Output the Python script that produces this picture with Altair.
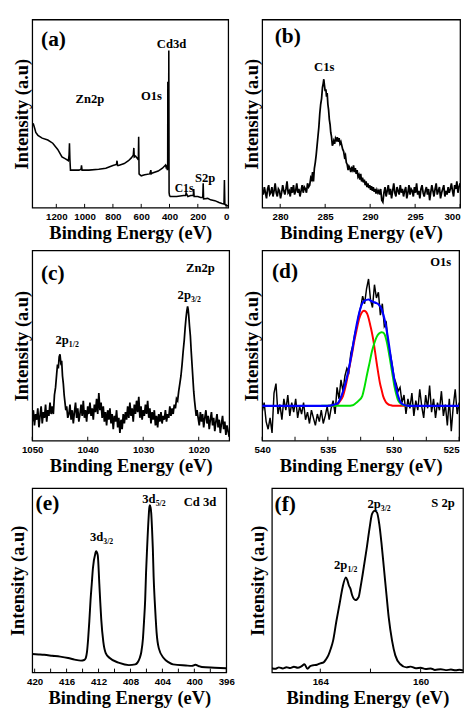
import altair as alt
import pandas as pd
import numpy as np

SERIF = "Liberation Serif"
SANS = "Liberation Sans"

# ---------------- (a) survey spectrum: (binding energy eV, intensity) ----------------
a_survey = [(1370,44.3),(1362,44.5),(1352,42),(1345,40),(1330,38.5),(1300,37),(1260,36),(1225,34.3),
            (1190,31),(1160,27),(1135,26),(1115,25),(1110,28),(1107,34.3),(1104,26),(1100,20),(1080,20),
            (1040,20),(1025,20.5),(1022,22.5),(1018,20),(970,20),(900,20.5),(850,21),(800,22.5),(775,23),
            (771,25),(767,22.5),(760,22.5),(720,23.5),(690,25),(670,26.5),(656,28),(652,31.8),(649,27),
            (640,27.5),(625,26),(620,27),(618,37.7),(615,18),(612,17.7),(600,17),(575,17.5),(540,18),
            (532,20),(529,18),(520,18.5),(480,19.5),(450,21),(428,22.7),(424,21.5),(420,22),(415,20),
            (413,22),(412,67),(411,25),(409,28),(407,30),(405,83.5),(403,8),(400,6.5),(395,6),(350,6),
            (300,6.5),(286,6.5),(283,8),(270,6),(250,6.5),(232,6.5),(229,10),(226,6),(200,6),(180,5.5),
            (165,5.5),(162,13),(159,4.7),(130,5),(110,4.2),(80,3.8),(50,2.8),(30,2.3),(15,2),(12,14.7),
            (9,2),(5,1.5),(0,1.3),(-15,1)]
a_ticks = [1200, 1000, 800, 600, 400, 200, 0]
a_labels = [("(a)", 1220, 89.5, 22), ("Cd3d", 386, 87, 13), ("Zn2p", 963, 57.5, 13),
            ("O1s", 528, 59.5, 13), ("C1s", 297, 10.5, 12), ("S2p", 148, 15.5, 13)]

# ---------------- (b) C1s ----------------
b_left_range = (278.0, 283.4)
b_left_counts = [9,7,11,8,5,10,12,7,8,11,6,9,13,8,6,10,9,5,8,12,9,7,10,14,8,9,6,11,8,12,7,9,13,8,10,
                 6,9,12,8,11,10,8,13,11,12,16]
b_peak = [(283.5,15),(283.6,19),(283.7,14),(283.8,21),(283.9,24),(284.0,28),(284.1,33),(284.2,38),
          (284.3,43),(284.4,50),(284.5,55),(284.6,58),(284.7,64),(284.78,66),(284.85,68.3),(284.92,65),
          (285.0,62),(285.08,63),(285.15,59),(285.22,61),(285.3,55),(285.38,52),(285.46,47),(285.55,44),
          (285.62,40),(285.7,38),(285.8,33),(285.88,34),(285.95,35.5),(286.05,34),(286.15,37),(286.25,36),
          (286.35,37.5),(286.45,35),(286.55,37),(286.65,34),(286.75,35),(286.85,33),(286.95,31),(287.05,30),
          (287.15,27),(287.25,28),(287.35,24),(287.45,23),(287.55,20),(287.65,22),(287.75,21),(287.85,19),
          (287.95,21),(288.05,20),(288.15,22.5),(288.25,19),(288.35,21),(288.45,18),(288.55,20),(288.65,16.5),
          (288.75,17.5),(288.85,15),(288.95,18),(289.05,14),(289.15,16),(289.25,13.5),(289.35,15),(289.45,12),
          (289.55,14),(289.65,11),(289.75,13),(289.85,10.5),(289.95,12),(290.05,9.5),(290.15,11.5),(290.25,9),
          (290.35,11),(290.45,8.5),(290.55,10),(290.65,7.5),(290.75,9.5),(290.85,8),(290.95,9)]
b_right_range = (291.05, 300.0)
b_right_counts = [7,10,4,3,8,11,6,9,12,7,10,5,9,13,8,6,11,9,7,12,8,10,6,9,11,5,8,12,7,10,9,6,11,8,13,
                  7,9,5,10,12,8,6,9,11,7,10,4,8,12,9,6,10,13,7,9,11,5,8,10,12,6,9,7,11,8,10,13,9,6,12,
                  10,14,8,11,13]
b_ticks = [280, 285, 290, 295, 300]
b_labels = [("(b)", 280.84, 91, 22), ("C1s", 284.9, 74.7, 13)]

# ---------------- (c) Zn2p ----------------
c_seg1_range = (1050.0, 1046.6)
c_seg1_counts = [10,16,8,14,11,17,7,13,18,9,15,12,19,10,16,13,20,14]
c_peak1 = [(1046.4,18),(1046.2,14),(1046.0,24),(1045.8,28),(1045.6,35),(1045.45,40),(1045.3,38),
           (1045.15,44),(1045.0,45.4),(1044.85,41),(1044.7,42),(1044.55,34),(1044.4,30),(1044.25,24),
           (1044.1,20),(1043.95,16),(1043.8,18),(1043.6,12)]
c_seg2_range = (1043.4, 1024.8)
c_seg2_counts = [14,19,11,16,9,15,20,12,17,10, 14,19,13,21,12,16,10,18,14,20,
                 13,17,11,19,15,22,14,25,16,20, 12,18,10,15,8,16,11,17,9,14,
                 6,13,10,16,7,12,4,11,6,14, 9,15,11,18,12,20,13,17,10,19,
                 14,21,15,23,12,18,11,16,13,19, 14,21,12,17,9,15,11,16,8,13,
                 7,14,10,15,9,13,11,16,10,14, 12,18,13,17]
c_peak2 = [(1024.6,14),(1024.4,19),(1024.2,17),(1024.0,22),(1023.8,21),(1023.6,26),(1023.4,30),
           (1023.2,34),(1023.0,40),(1022.8,47),(1022.6,53),(1022.45,59),(1022.3,64),(1022.15,68),
           (1022.0,70.6),(1021.9,69),(1021.8,66),(1021.65,60),(1021.5,55),(1021.35,47),(1021.2,40),
           (1021.05,33),(1020.9,26),(1020.75,21),(1020.6,17),(1020.45,13),(1020.3,16)]
c_seg3_range = (1020.1, 1014.5)
c_seg3_counts = [12,8,15,10,14,7,12,16,9,13,6,11,15,8,12,5,10,14,7,11,4,9,13,6,10,3,8,5,2]
c_ticks = [1050, 1040, 1030, 1020]
c_labels = [("(c)", 1046.3, 88.2, 22), ("Zn2p", 1019.7, 90.8, 13)]
c_sub_labels = [("2p", "3/2", 1021.4, 76.4), ("2p", "1/2", 1043.4, 52.9)]

# ---------------- (d) O1s ----------------
d_range = (540.0, 525.0)
d_counts = [15,20,10,6,12,4,25,30,14,19,11,22,16,24,13,20,15,22,12,18,
            14,20,11,15,9,16,12,8,14,10,16,9,13,18,11,17,21,14,28,22,
            32,26,34,38,36,46,50,56,60,66,70,76,72,80,85,74,70,82,75,78,
            66,72,60,62,50,46,40,33,30,26,28,20,24,14,22,17,25,13,21,16,
            27,18,12,24,17,29,15,22,12,20,16,26,13,19,8,22,5,18,27,14,20]
d_red = [(535.0,18.3),(534.6,18.3),(534.34,18.6),(534.1,20.5),(533.85,23.4),(533.6,30),(533.36,38.6),
         (533.15,46),(532.99,52.2),(532.8,58.5),(532.62,64),(532.45,67),(532.25,68.3),(532.1,67.8),
         (532.0,66.6),(531.88,64),(531.77,60.7),(531.65,57),(531.52,52.2),(531.4,46.5),(531.27,40.3),
         (531.15,35),(531.03,30.2),(530.9,26.5),(530.79,23.4),(530.6,20.5),(530.42,19.2),(530.2,18.6),
         (529.93,18.3),(528.8,18.3)]
d_green = [(535.5,18.3),(533.5,18.3),(533.1,18.6),(532.9,19.5),(532.65,21),(532.38,23.4),(532.2,28.5),
           (532.0,35.3),(531.82,41),(531.64,47),(531.45,51.5),(531.27,54.7),(531.1,56.3),(530.91,57),
           (530.78,56.8),(530.66,55.6),(530.54,52.8),(530.42,48.8),(530.3,44),(530.17,38.6),(530.05,33.5),
           (529.93,28.5),(529.8,24.6),(529.68,21.7),(529.5,19.8),(529.32,18.8),(528.95,18.3),(528.5,18.3)]
d_blue = [(540,18.3),(535.0,18.3),(534.58,18.8),(534.4,19.2),(534.2,20),(533.97,23.4),(533.73,28.5),
          (533.48,35.3),(533.24,43.7),(532.99,53.9),(532.74,63.2),(532.5,70),(532.25,73.4),(531.89,74.2),
          (531.7,73.4),(531.52,72.9),(531.3,72.3),(531.15,71.7),(530.91,69.2),(530.66,63.2),(530.42,53.9),
          (530.17,42),(529.93,31.9),(529.68,24.2),(529.44,20),(529.2,18.8),(529.0,18.4),(528.5,18.3),(525,18.3)]
d_ticks = [540, 535, 530, 525]
d_minor = [537.5, 532.5, 527.5]
d_labels = [("(d)", 538.26, 89.2, 22), ("O1s", 526.4, 93.8, 13)]

# ---------------- (e) Cd 3d ----------------
e_curve = [(420.3,10.0),(419.5,9.8),(418.8,9.6),(417.8,9.1),(416.8,8.6),(415.8,7.85),(415.0,7.0),
           (414.2,6.46),(413.8,6.8),(413.6,7.85),(413.45,11),(413.3,18.3),(413.15,28),(413.0,39.3),
           (412.85,48),(412.7,56.7),(412.4,64.6),(412.3,65.8),(412.1,63.7),(411.9,48),(411.78,38),
           (411.66,28.8),(411.4,16.6),(411.1,10.5),(410.6,7.85),(409.4,5.2),(408.2,4.0),(407.4,4.4),
           (407.1,5.5),(406.84,7.85),(406.65,11),(406.44,18.3),(406.3,28),(406.16,39.3),(406.05,54),
           (405.92,67.2),(405.72,84.6),(405.65,89),(405.57,90.8),(405.48,89.5),(405.4,86.4),(405.3,78),
           (405.2,67.2),(405.1,52),(404.97,39.3),(404.85,30),(404.73,21.8),(404.45,13.1),(403.85,7.85),
           (403.2,5.5),(402.66,4.4),(401.06,3.8),(400.3,3.6),(399.87,4.2),(399.4,3.4),(399.07,3.0),
           (397.48,2.6),(396.0,2.3)]
e_ticks = [420, 416, 412, 408, 404, 400, 396]
e_minor = [418, 414, 410, 406, 402, 398]
e_labels = [("(e)", 418.4, 92, 22), ("Cd 3d", 399.3, 92.7, 13)]
e_sub_labels = [("3d", "5/2", 404.85, 94.0), ("3d", "3/2", 411.4, 73.5)]

# ---------------- (f) S 2p ----------------
f_curve = [(165.93,2.3),(165.8,2.0),(165.65,2.8),(165.5,2.2),(165.35,2.9),(165.2,2.4),(165.05,3.1),
           (164.9,2.6),(164.76,3.3),(164.63,4.5),(164.51,2.0),(164.4,3.5),(164.25,4.0),(164.13,4.2),
           (164.0,5.0),(163.87,5.5),(163.78,7.0),(163.68,9.3),(163.58,13),(163.49,17.3),(163.36,27.8),
           (163.24,36.6),(163.11,46.3),(162.98,51.6),(162.92,50),(162.86,47.2),(162.8,45.5),(162.73,41.9),
           (162.6,39.3),(162.47,41),(162.4,46),(162.32,52.5),(162.16,66.5),(162.03,78.9),(161.94,85.9),
           (161.84,87.7),(161.74,86.8),(161.65,80.6),(161.56,70),(161.46,56),(161.36,41.9),(161.27,29.6),
           (161.14,17.3),(161.01,9.3),(160.82,4.6),(160.57,2.8),(160.4,3.2),(160.19,2.3),(160.0,2.6),
           (159.8,1.9),(159.6,2.2),(159.43,1.4),(159.2,1.8),(159.0,1.3),(158.79,1.6),(158.6,1.2),
           (158.45,1.5),(158.31,1.1)]
f_ticks = [164, 160]
f_minor = [162]
f_labels = [("(f)", 165.4, 91.5, 22), ("S 2p", 159.11, 92, 13)]
f_sub_labels = [("2p", "3/2", 161.59, 91.5), ("2p", "1/2", 162.92, 58)]


def pts(pairs):
    return pd.DataFrame(pairs, columns=["e", "v"])


def seg(rng, counts):
    return pd.DataFrame({"e": np.linspace(rng[0], rng[1], len(counts)), "v": counts})


def panel(curves, xdom, ticks, minor, labels, subs, W, H, reverse=True, ypad=1, right_label=None):
    axis_kw = dict(values=ticks, title="Binding Energy (eV)", format="d")
    if right_label is not None:
        axis_kw["labelAlign"] = {"condition": {"test": f"datum.value == {right_label}", "value": "right"},
                                 "value": "center"}
    x_enc = alt.X("e:Q", scale=alt.Scale(domain=xdom, reverse=reverse, nice=False, zero=False),
                  axis=alt.Axis(**axis_kw))
    y_enc = alt.Y("v:Q", scale=alt.Scale(domain=[0, 100], nice=False, zero=False),
                  axis=alt.Axis(labels=False, ticks=False, title="Intensity (a.u)", titlePadding=ypad))
    layers = []
    for df, color, sw, interp in curves:
        layers.append(alt.Chart(df).mark_line(color=color, strokeWidth=sw, interpolate=interp, clip=True)
                      .encode(x=x_enc, y=y_enc))
    tdf = pd.DataFrame({"e": list(ticks) + list(minor)})
    layers.append(alt.Chart(tdf).mark_rule(color="black", strokeWidth=1)
                  .encode(x=x_enc, y=alt.value(H), y2=alt.value(H - 4)))
    for (txt, e, v, fs) in labels:
        ldf = pd.DataFrame({"e": [e], "v": [v], "t": [txt]})
        layers.append(alt.Chart(ldf).mark_text(font=SERIF, fontWeight="bold", fontSize=fs, clip=True,
                                                color="black", align="center", baseline="middle")
                      .encode(x=x_enc, y=y_enc, text="t:N"))
    for (main, sub, e, v) in subs:
        ldf = pd.DataFrame({"e": [e], "v": [v], "t": [main], "s": [sub]})
        layers.append(alt.Chart(ldf).mark_text(font=SERIF, fontWeight="bold", fontSize=13, clip=True,
                                                color="black", align="right", baseline="middle")
                      .encode(x=x_enc, y=y_enc, text="t:N"))
        layers.append(alt.Chart(ldf).mark_text(font=SERIF, fontWeight="bold", fontSize=8, clip=True,
                                                color="black", align="left", baseline="middle", dy=5)
                      .encode(x=x_enc, y=y_enc, text="s:N"))
    return alt.layer(*layers).properties(width=W, height=H)


pa = panel([(pts(a_survey), "black", 1.6, "linear")], [-15, 1370], a_ticks, [], a_labels, [], 202, 194)

b_df = pd.concat([seg(b_left_range, b_left_counts), pts(b_peak), seg(b_right_range, b_right_counts)])
pb = panel([(b_df, "black", 1.8, "linear")], [278, 300], b_ticks, [], b_labels, [], 204, 194,
           reverse=False, right_label=300)

c_df = pd.concat([seg(c_seg1_range, c_seg1_counts), pts(c_peak1), seg(c_seg2_range, c_seg2_counts),
                  pts(c_peak2), seg(c_seg3_range, c_seg3_counts)])
pc = panel([(c_df, "black", 1.8, "linear")], [1014.5, 1050], c_ticks, [], c_labels, c_sub_labels, 203, 196)

d_df = seg(d_range, d_counts)
pd_ = panel([(d_df, "black", 1.5, "linear"), (pts(d_red), "#ff0000", 2, "monotone"),
             (pts(d_green), "#00e000", 2, "monotone"), (pts(d_blue), "#0000ff", 2.2, "monotone")],
            [525, 540], d_ticks, d_minor, d_labels, [], 203, 196, right_label=525)

pe = panel([(pts(e_curve), "black", 2, "monotone")], [396, 420.3], e_ticks, e_minor, e_labels,
           e_sub_labels, 200, 190, ypad=5)
pf = panel([(pts(f_curve), "black", 2, "monotone")], [158.31, 165.93], f_ticks, f_minor, f_labels,
           f_sub_labels, 197, 190, ypad=5)

row1 = alt.hconcat(pa, pb, spacing=12)
row2 = alt.hconcat(pc, pd_, spacing=12)
row3 = alt.hconcat(pe, pf, spacing=13)

top = alt.vconcat(row1, row2, spacing=6)
chart = alt.vconcat(top, row3, spacing=11).properties(padding=0).configure_view(
    stroke="black", strokeWidth=1.3
).configure_axis(
    grid=False, domain=False, ticks=False, labelFont=SANS, labelFontWeight="bold", labelFontSize=10,
    labelColor="black", labelPadding=4, labelFlush=False, labelOverlap=False,
    titleFont=SERIF, titleFontSize=19, titleFontWeight="bold", titleColor="black", titlePadding=3
)

chart.save("out.html", embed_options={"renderer": "svg", "actions": False})
